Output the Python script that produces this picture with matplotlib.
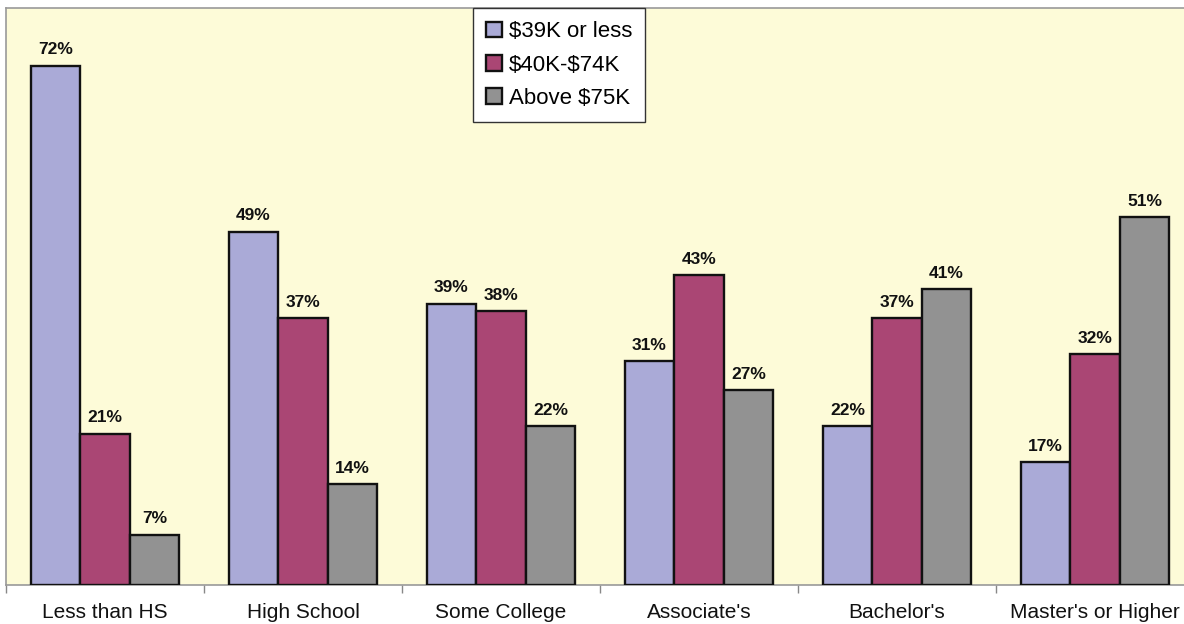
import numpy as np
import matplotlib
matplotlib.use("Agg")
import matplotlib.pyplot as plt

# Share of each education level by income group (%)
categories = ["Less than HS", "High School", "Some College",
              "Associate's", "Bachelor's", "Master's or Higher"]
series_names = ["$39K or less", "$40K-$74K", "Above $75K"]
low_income = [72, 49, 39, 31, 22, 17]
mid_income = [21, 37, 38, 43, 37, 32]
high_income = [7, 14, 22, 27, 41, 51]

colors = ["#AAAAD7", "#AA4674", "#929292"]

plt.rcParams["font.family"] = ["Liberation Sans", "DejaVu Sans"]
plt.rcParams["text.parse_math"] = False

fig = plt.figure(figsize=(11.84, 6.24), dpi=100)
# plot area runs off the right edge of the picture
ax = fig.add_axes([6 / 1184, 39 / 624, 1188 / 1184, 577 / 624])
ax.set_facecolor("#FDFBD8")

x = np.arange(len(categories))
w = 0.25
for i, (vals, name) in enumerate(zip([low_income, mid_income, high_income],
                                     series_names)):
    bars = ax.bar(x + (i - 1) * w, vals, width=w, color=colors[i],
                  edgecolor="#111111", linewidth=1.7, label=name, zorder=3)
    ax.bar_label(bars, labels=[f"{v}%" for v in vals], padding=6,
                 fontsize=12.5, fontweight="bold", color="#111111")

ax.set_xlim(-0.5, len(categories) - 0.5)
ax.set_ylim(0, 80)
ax.set_yticks([])

ax.set_xticks(x)
ax.set_xticklabels(categories, fontsize=15, color="#111111")
ax.tick_params(axis="x", which="major", length=0, pad=13)
ax.set_xticks(np.arange(len(categories) + 1) - 0.5, minor=True)
ax.tick_params(axis="x", which="minor", length=6, width=1, color="#888888")

for side in ["left", "top", "bottom"]:
    ax.spines[side].set_color("#999999")
    ax.spines[side].set_linewidth(1.2)
ax.spines["right"].set_visible(False)

leg = ax.legend(loc="upper left", bbox_to_anchor=(473 / 1184, 1 - 8 / 624),
                bbox_transform=fig.transFigure, fontsize=16,
                frameon=True, fancybox=False, framealpha=1,
                edgecolor="#333333", handlelength=0.7, handleheight=0.7,
                handletextpad=0.3, labelspacing=0.55, borderpad=0.6,
                borderaxespad=0)
leg.get_frame().set_linewidth(1.0)

fig.savefig("out.png", dpi=100, facecolor="white")
